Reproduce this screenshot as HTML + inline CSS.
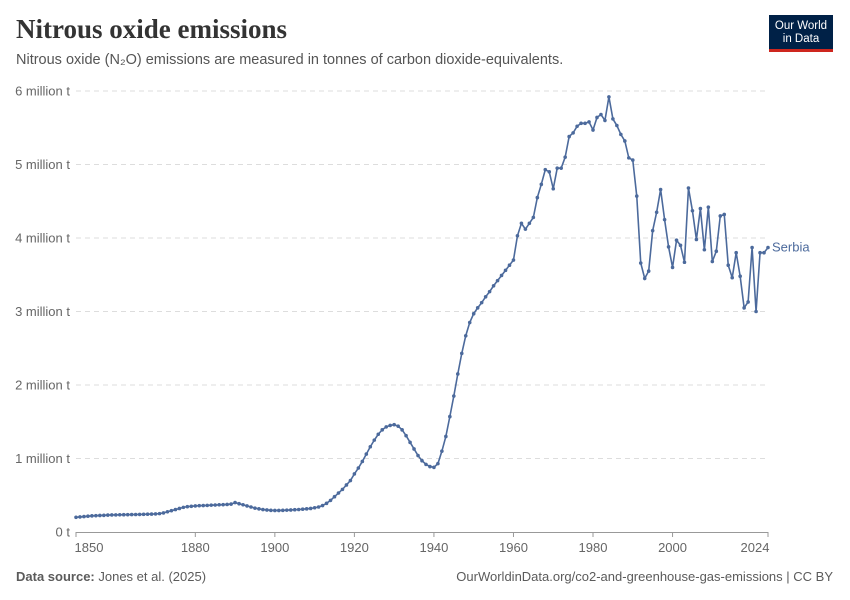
<!DOCTYPE html>
<html><head><meta charset="utf-8"><style>
body{margin:0;background:#fff;font-family:"Liberation Sans",sans-serif;}
.wrap{position:relative;width:850px;height:600px;overflow:hidden}
</style></head><body>
<div class="wrap">
<div style="position:absolute;left:16px;top:14px;font-family:'Liberation Serif',serif;font-weight:bold;font-size:27px;color:#333">Nitrous oxide emissions</div>
<div style="position:absolute;left:16px;top:52px;font-size:14.5px;color:#555">Nitrous oxide (N₂O) emissions are measured in tonnes of carbon dioxide-equivalents.</div>
<div style="position:absolute;left:769px;top:15px;width:64px;height:37px;background:#002147;border-bottom:3px solid #ce261e;color:#fff;font-size:11.5px;line-height:13px;text-align:center;box-sizing:border-box;padding-top:5px">Our World<br>in Data</div>
<svg id="chart" width="850" height="600" style="position:absolute;left:0;top:0"></svg>
<div style="position:absolute;left:16px;top:569px;font-size:13px;color:#5b5b5b"><b>Data source:</b> Jones et al. (2025)</div>
<div style="position:absolute;right:17px;top:569px;font-size:13px;color:#5b5b5b">OurWorldinData.org/co2-and-greenhouse-gas-emissions | CC BY</div>
</div>
<script>
const startYear = 1850;
const values = [
0.20,0.205,0.21,0.215,0.22,0.222,0.225,0.227,0.23,0.232,0.233,0.234,0.235,0.236,0.237,0.238,0.239,0.24,0.242,0.244,
0.246,0.25,0.26,0.275,0.29,0.305,0.32,0.335,0.345,0.35,
0.355,0.358,0.36,0.362,0.365,0.367,0.37,0.372,0.375,0.38,
0.40,0.385,0.37,0.355,0.34,0.325,0.315,0.305,0.3,0.295,
0.293,0.293,0.295,0.297,0.3,0.303,0.306,0.31,0.315,0.32,
0.33,0.34,0.36,0.39,0.43,0.48,0.53,0.58,0.64,0.7,
0.79,0.87,0.96,1.06,1.16,1.25,1.33,1.39,1.43,1.45,
1.46,1.44,1.39,1.31,1.22,1.13,1.04,0.97,0.92,0.89,
0.88,0.93,1.1,1.3,1.57,1.85,2.15,2.43,2.67,2.85,
2.97,3.05,3.12,3.2,3.27,3.35,3.42,3.49,3.56,3.63,
3.7,4.03,4.2,4.12,4.2,4.28,4.55,4.73,4.93,4.9,
4.67,4.95,4.95,5.1,5.38,5.43,5.52,5.56,5.56,5.58,
5.47,5.64,5.68,5.6,5.92,5.62,5.53,5.41,5.32,5.09,
5.06,4.57,3.66,3.45,3.55,4.1,4.35,4.66,4.25,3.88,
3.6,3.97,3.9,3.67,4.68,4.37,3.98,4.4,3.84,4.42,
3.68,3.82,4.3,4.32,3.63,3.46,3.8,3.48,3.05,3.13,
3.87,3.0,3.8,3.8,3.87];
const yTicks = [0,1,2,3,4,5,6];
const yTickLabels = ["0 t","1 million t","2 million t","3 million t","4 million t","5 million t","6 million t"];
const xTicks = [1850,1880,1900,1920,1940,1960,1980,2000,2024];

const svg = document.getElementById('chart');
const NS = 'http://www.w3.org/2000/svg';
const x = yr => 76 + (yr - 1850) * (692 / 174);
const y = v => 532 - v * 73.5;
function mk(tag, attrs){const e=document.createElementNS(NS,tag);for(const k in attrs)e.setAttribute(k,attrs[k]);svg.appendChild(e);return e;}

yTicks.forEach((t,i)=>{
  if(t>0){const g=mk('line',{x1:76,x2:768,y1:y(t),y2:y(t),stroke:'#ddd','stroke-dasharray':'5,4'});
  
  }
  const tx=mk('text',{x:70,y:y(t)+4.5,'text-anchor':'end','font-size':13,fill:'#666','font-family':'Liberation Sans, sans-serif'});
  tx.textContent=yTickLabels[i];
  
  
});
const ax=mk('line',{x1:76,x2:768,y1:532.5,y2:532.5,stroke:'#999'});


xTicks.forEach(t=>{
  const tk=mk('line',{x1:x(t),x2:x(t),y1:532,y2:537,stroke:'#999'});
  
  
  const lx = t===1850 ? x(t)+13 : t===2024 ? x(t)-13 : x(t);
  const tx=mk('text',{x:lx,y:552,'text-anchor':'middle','font-size':13,fill:'#666','font-family':'Liberation Sans, sans-serif'});
  tx.textContent=t;
  
  
});
const pts=values.map((v,i)=>x(startYear+i).toFixed(2)+','+y(v).toFixed(2)).join(' ');
const line=mk('polyline',{points:pts,fill:'none',stroke:'#4c6a9c','stroke-width':1.6});


values.forEach((v,i)=>{
  const c=mk('circle',{cx:x(startYear+i),cy:y(v),r:1.8,fill:'#4c6a9c'});
  
  
});
const last=values[values.length-1];
const lab=mk('text',{x:772,y:y(last)+4,'font-size':13,fill:'#4c6a9c','font-family':'Liberation Sans, sans-serif'});
lab.textContent='Serbia';


</script>
</body></html>
